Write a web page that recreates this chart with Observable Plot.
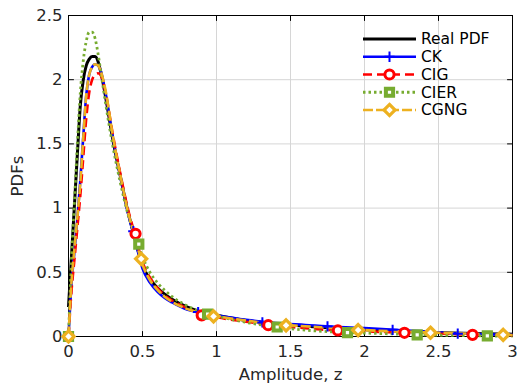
<!DOCTYPE html>
<html><head><meta charset="utf-8">
<script src="https://cdn.jsdelivr.net/npm/d3@7"></script>
<script src="https://cdn.jsdelivr.net/npm/@observablehq/plot@0.6"></script>
<style>
body{margin:0;background:#fff;}
#wrap{position:relative;width:518px;height:385px;}
#wrap svg{display:block;}
#legend{position:absolute;left:0;top:0;}
</style></head><body><div id="wrap"></div>
<script>
// ---- data ----
const zGrid = [0, 0.02, 0.04, 0.06, 0.08, 0.1, 0.12, 0.14, 0.16, 0.18, 0.2, 0.22, 0.25, 0.3, 0.35, 0.4, 0.45, 0.5, 0.55, 0.6, 0.65, 0.7, 0.8, 0.9, 1.0, 1.2, 1.4, 1.6, 1.8, 2.0, 2.2, 2.4, 2.6, 2.8, 3.0];
const realPDF = [0.23, 0.62, 1.02, 1.42, 1.8, 2.0, 2.11, 2.16, 2.18, 2.18, 2.14, 2.05, 1.87, 1.53, 1.25, 0.98, 0.76, 0.55, 0.45, 0.38, 0.33, 0.29, 0.23, 0.19, 0.165, 0.125, 0.1, 0.08, 0.065, 0.052, 0.042, 0.034, 0.027, 0.022, 0.018];
const ckPDF = [0, 0.4, 0.66, 0.92, 1.22, 1.56, 1.88, 2.04, 2.1, 2.12, 2.11, 2.06, 1.9, 1.55, 1.25, 0.97, 0.75, 0.53, 0.42, 0.35, 0.3, 0.265, 0.21, 0.185, 0.165, 0.13, 0.105, 0.09, 0.075, 0.065, 0.052, 0.04, 0.025, 0.018, 0.013];
const cigPDF = [0, 0.35, 0.6, 0.85, 1.1, 1.4, 1.7, 1.9, 2.0, 2.04, 2.05, 2.03, 1.9, 1.57, 1.27, 1.0, 0.79, 0.58, 0.46, 0.38, 0.32, 0.28, 0.22, 0.175, 0.15, 0.115, 0.085, 0.065, 0.048, 0.04, 0.032, 0.025, 0.018, 0.012, 0.009];
const cierPDF = [0, 0.6, 1.05, 1.5, 1.9, 2.15, 2.3, 2.37, 2.37, 2.32, 2.2, 2.05, 1.82, 1.48, 1.2, 0.96, 0.79, 0.62, 0.5, 0.42, 0.36, 0.31, 0.24, 0.19, 0.16, 0.11, 0.074, 0.05, 0.035, 0.027, 0.02, 0.013, 0.008, 0.004, 0.002];
const cgngPDF = [0, 0.42, 0.68, 0.93, 1.2, 1.55, 1.88, 2.04, 2.1, 2.12, 2.11, 2.06, 1.92, 1.56, 1.26, 0.98, 0.77, 0.56, 0.44, 0.365, 0.31, 0.27, 0.215, 0.18, 0.158, 0.125, 0.095, 0.08, 0.065, 0.05, 0.04, 0.033, 0.026, 0.018, 0.012];

const ckMarkZ = [0, 0.438, 0.876, 1.31, 1.75, 2.19, 2.63];
const ckMarkY = [0, 0.82, 0.19, 0.11, 0.078, 0.052, 0.022];
const cigMarkZ = [0, 0.453, 0.9, 1.35, 1.82, 2.27, 2.73];
const cigMarkY = [0, 0.8, 0.165, 0.088, 0.047, 0.029, 0.013];
const cierMarkZ = [0, 0.475, 0.94, 1.41, 1.885, 2.356, 2.83];
const cierMarkY = [0, 0.72, 0.175, 0.074, 0.03, 0.013, 0.004];
const cgngMarkZ = [0, 0.491, 0.98, 1.47, 1.957, 2.446, 2.937];
const cgngMarkY = [0, 0.605, 0.157, 0.087, 0.05, 0.029, 0.013];

const seriesNames = ["Real PDF", "CK", "CIG", "CIER", "CGNG"];
const xTicks = [0, 0.5, 1, 1.5, 2, 2.5, 3];
const yTicks = [0, 0.5, 1, 1.5, 2, 2.5];
const xLabel = "Amplitude, z";
const yLabel = "PDFs";

// ---- styles ----
const styles = {
  "Real PDF": {color: "#000000", width: 3, dash: null, symbol: null},
  "CK": {color: "#0000ff", width: 2.6, dash: null, symbol: "plus", r: 3.4, sw: 2},
  "CIG": {color: "#ff0000", width: 2.6, dash: "9,5", symbol: "circle", r: 4.6, sw: 3},
  "CIER": {color: "#77ac30", width: 2.8, dash: "2.5,3", symbol: "square2", r: 4.6, sw: 4},
  "CGNG": {color: "#edb120", width: 2.6, dash: "10,3", symbol: "diamond2", r: 5, sw: 3.2}
};
const curveVals = [realPDF, ckPDF, cigPDF, cierPDF, cgngPDF];
const markZ = [null, ckMarkZ, cigMarkZ, cierMarkZ, cgngMarkZ];
const markY = [null, ckMarkY, cigMarkY, cierMarkY, cgngMarkY];

const tickShape = {draw(context, l) { context.moveTo(0, 0); context.lineTo(0, -l); }};
const tickOpts = {length: 5, anchor: "start", shape: tickShape, stroke: "#000", strokeWidth: 1};

const marks = [
  Plot.ruleX(xTicks.slice(1, -1), {stroke: "#d6d6d6", strokeWidth: 1}),
  Plot.ruleY(yTicks.slice(1, -1), {stroke: "#d6d6d6", strokeWidth: 1}),
  Plot.frame({stroke: "#000", strokeWidth: 1}),
  Plot.vector(xTicks, {x: d => d, frameAnchor: "bottom", rotate: 0, ...tickOpts}),
  Plot.vector(xTicks, {x: d => d, frameAnchor: "top", rotate: 180, ...tickOpts}),
  Plot.vector(yTicks, {y: d => d, frameAnchor: "left", rotate: 90, ...tickOpts}),
  Plot.vector(yTicks, {y: d => d, frameAnchor: "right", rotate: -90, ...tickOpts}),
  Plot.axisX({ticks: xTicks, tickSize: 0, tickPadding: 9, tickFormat: d => String(d), fontSize: 16.5,
    label: xLabel, labelAnchor: "center", labelArrow: "none", labelOffset: 43}),
  Plot.axisY({ticks: yTicks, tickSize: 0, tickPadding: 6, tickFormat: d => String(d), fontSize: 16.5,
    label: yLabel, labelAnchor: "center", labelArrow: "none", labelOffset: 57})
];
const order = [0, 1, 2, 3, 4];
order.forEach(i => {
  const s = styles[seriesNames[i]];
  const data = zGrid.map((z, j) => ({z, v: curveVals[i][j]}));
  marks.push(Plot.line(data, {x: "z", y: "v", stroke: s.color, strokeWidth: s.width,
    strokeDasharray: s.dash, curve: "monotone-x", strokeLinecap: "butt", strokeLinejoin: "round"}));
});
order.forEach(i => {
  if (!markZ[i]) return;
  const s = styles[seriesNames[i]];
  const data = markZ[i].map((z, j) => ({z, v: markY[i][j]}));
  marks.push(Plot.dot(data, {x: "z", y: "v", symbol: () => s.symbol, r: s.r, stroke: s.color,
    strokeWidth: s.sw, fill: s.symbol === "plus" ? "none" : "white"}));
});

const chart = Plot.plot({
  width: 518, height: 385,
  marginLeft: 68, marginRight: 6, marginTop: 15, marginBottom: 49,
  x: {domain: [0, 3]},
  y: {domain: [0, 2.5]},
  style: {fontFamily: "DejaVu Sans", fontSize: "17px", color: "#262626", background: "white"},
  marks
});
const wrap = document.getElementById("wrap");
wrap.appendChild(chart);

// ---- legend ----
const lg = d3.select(wrap).append("svg").attr("id", "legend").attr("width", 518).attr("height", 385);
const rowY = i => 39 + i * 17.75;
seriesNames.forEach((name, i) => {
  const s = styles[name];
  const g = lg.append("g");
  g.append("line").attr("x1", 363).attr("x2", 416).attr("y1", rowY(i)).attr("y2", rowY(i))
    .attr("stroke", s.color).attr("stroke-width", s.width).attr("stroke-dasharray", s.dash);
  if (s.symbol) {
    const sym = {plus: d3.symbolPlus, circle: d3.symbolCircle, square2: d3.symbolSquare2, diamond2: d3.symbolDiamond2}[s.symbol];
    g.append("path").attr("d", d3.symbol(sym, Math.PI * s.r * s.r)())
      .attr("transform", `translate(389.5,${rowY(i)})`)
      .attr("fill", s.symbol === "plus" ? "none" : "white").attr("stroke", s.color).attr("stroke-width", s.sw);
  }
  g.append("text").attr("x", 421).attr("y", rowY(i)).attr("dy", "0.35em")
    .attr("font-family", "DejaVu Sans").attr("font-size", "15.5px").attr("fill", "#000").text(name);
});
</script></body></html>
